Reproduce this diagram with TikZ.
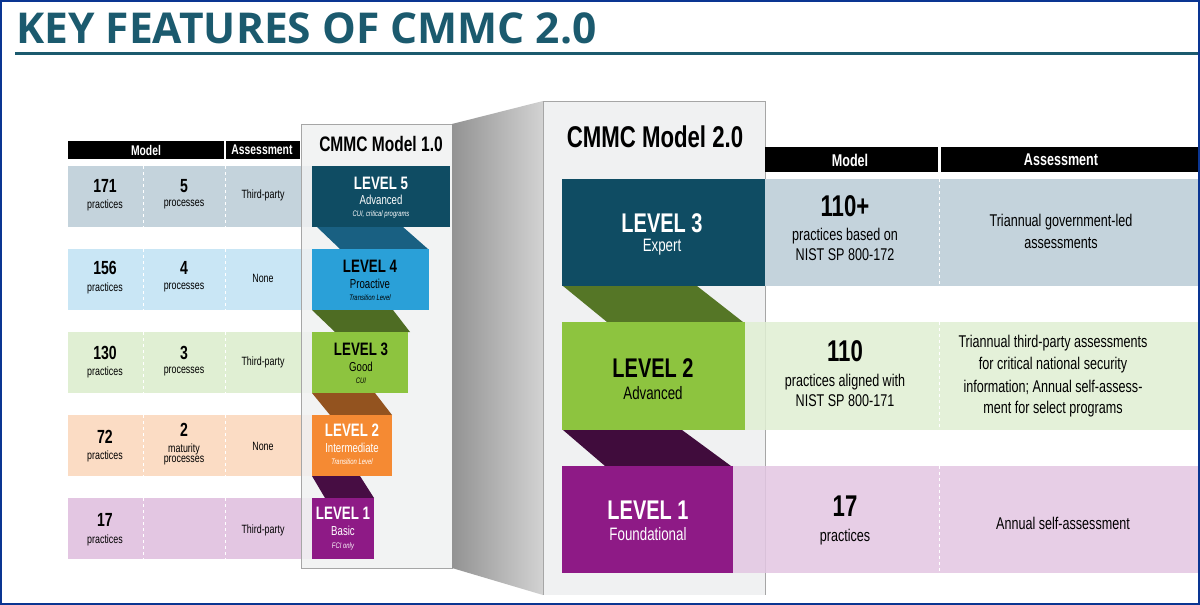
\documentclass[tikz,border=0pt]{standalone}
\usepackage{fontspec}
\setmainfont{Liberation Sans}
\newfontfamily\cond{Liberation Sans}[FakeStretch=0.74]
\newfontfamily\ttl{Open Sans}
\definecolor{teal}{HTML}{1B5A6E}
\definecolor{navy}{HTML}{0F4C63}
\definecolor{sky}{HTML}{2AA0D8}
\definecolor{lime}{HTML}{8DC43F}
\definecolor{orng}{HTML}{F58A33}
\definecolor{purp}{HTML}{8E1A86}
\definecolor{rA}{HTML}{C4D3DC}
\definecolor{rB}{HTML}{C9E6F5}
\definecolor{rC}{HTML}{E0EFD3}
\definecolor{rD}{HTML}{FBDCC4}
\definecolor{rE}{HTML}{E3C6E2}
\definecolor{panel}{HTML}{F0F1F2}
\begin{document}
\begin{tikzpicture}[x=1pt,y=-1pt,
  t/.style={inner sep=0pt,align=center,font=\cond\fontsize{#1}{#1}\selectfont},
  tb/.style={inner sep=0pt,align=center,font=\cond\bfseries\fontsize{#1}{#1}\selectfont},
  sep/.style={white,dashed,line width=1pt},
  hdr/.style={fill=black}]
\useasboundingbox (0,0) rectangle (1200,605);
\fill[white] (0,0) rectangle (1200,605);
\draw[navy!70!blue,line width=1.2pt] (1,1) rectangle (1199,604);
\node[inner sep=0pt,anchor=west,font=\ttl\bfseries\fontsize{42.5}{42.5}\selectfont,text=teal] (title) at (16,28) {KEY FEATURES OF CMMC 2.0};
\draw[teal,line width=3pt] (15,53) -- (1198,53);
% ---- left table rows
\fill[rA] (68,166) rectangle (312,227);
\fill[rB] (68,249) rectangle (312,310);
\fill[rC] (68,332) rectangle (312,393);
\fill[rD] (68,415) rectangle (312,476);
\fill[rE] (68,498) rectangle (312,559);
\foreach \a/\b in {166/227,249/310,332/393,415/476,498/559}{
  \draw[sep] (143,\a) -- (143,\b); \draw[sep] (225,\a) -- (225,\b);}
\fill[hdr] (68,141) rectangle (224,159);
\fill[hdr] (226,141) rectangle (300,159);
\node[tb=14,white] (lhm) at (146,150) {Model};
\node[tb=14,white] (lha) at (262,150) {Assessment};
% panel 1
\fill[panel,opacity=0.85] (301,124) rectangle (452,568);
\draw[gray!70] (301,124) rectangle (452,568);
\node[tb=21] (p1) at (381,144) {CMMC Model 1.0};
% 3D connector
\shade[left color=gray!85,right color=gray!35] (452,124) -- (543,101) -- (543,595) -- (452,568) -- cycle;
% level connectors model 1
\fill[sky!60!black] (317,227) -- (403,227) -- (428,249) -- (340,249) -- cycle;
\fill[lime!55!black] (312,310) -- (393,310) -- (410,332) -- (335,332) -- cycle;
\fill[orng!60!black] (312,393) -- (375,393) -- (392,415) -- (330,415) -- cycle;
\fill[purp!50!black] (312,476) -- (360,476) -- (374,498) -- (325,498) -- cycle;
% level boxes model 1
\fill[navy] (312,166) rectangle (450,227);
\fill[sky] (312,249) rectangle (429,310);
\fill[lime] (312,332) rectangle (408,393);
\fill[orng] (312,415) rectangle (392,476);
\fill[purp] (312,498) rectangle (374,559);
\node[tb=18,white] (l5a) at (381,183) {LEVEL 5};
\node[t=13,white] (l5b) at (381,200) {Advanced};
\node[t=8,white,font=\cond\itshape\fontsize{8}{8}\selectfont] (l5c) at (381,214) {CUI, critical programs};
\node[tb=18] (l4a) at (370,266) {LEVEL 4};
\node[t=13] (l4b) at (370,284) {Proactive};
\node[t=8,font=\cond\itshape\fontsize{8}{8}\selectfont] (l4c) at (370,298) {Transition Level};
\node[tb=18] (l3a) at (361,349) {LEVEL 3};
\node[t=13] (l3b) at (361,367) {Good};
\node[t=8,font=\cond\itshape\fontsize{8}{8}\selectfont] (l3c) at (361,381) {CUI};
\node[tb=18,white] (l2a) at (352,430) {LEVEL 2};
\node[t=13,white] (l2b) at (352,448) {Intermediate};
\node[t=8,white,font=\cond\itshape\fontsize{8}{8}\selectfont] (l2c) at (352,462) {Transition Level};
\node[tb=18,white] (l1a) at (343,513) {LEVEL 1};
\node[t=13,white] (l1b) at (343,531) {Basic};
\node[t=8,white,font=\cond\itshape\fontsize{8}{8}\selectfont] (l1c) at (343,546) {FCI only};
% left texts
\node[tb=19] (n1) at (105,186) {171}; \node[t=12] (n1p) at (105,205) {practices};
\node[tb=19] (m1) at (184,186) {5}; \node[t=12] (m1p) at (184,205) {processes};
\node[t=12] (a1) at (263,195) {Third-party};
\node[tb=19] (n2) at (105,268) {156}; \node[t=12] (n2p) at (105,288) {practices};
\node[tb=19] (m2) at (184,268) {4}; \node[t=12] (m2p) at (184,288) {processes};
\node[t=12] (a2) at (263,278) {None};
\node[tb=19] (n3) at (105,353) {130}; \node[t=12] (n3p) at (105,372) {practices};
\node[tb=19] (m3) at (184,353) {3}; \node[t=12] (m3p) at (184,372) {processes};
\node[t=12] (a3) at (263,362) {Third-party};
\node[tb=19] (n4) at (105,437) {72}; \node[t=12] (n4p) at (105,456) {practices};
\node[tb=19] (m4) at (184,430) {2}; \node[t=12] (m4p) at (184,449) {maturity}; \node[t=12] (m4q) at (184,461) {processes};
\node[t=12] (a4) at (263,446) {None};
\node[tb=19] (n5) at (105,520) {17}; \node[t=12] (n5p) at (105,540) {practices};
\node[t=12] (a5) at (263,530) {Third-party};
% panel 2
\fill[panel] (543,101) rectangle (765,595);
\draw[gray!70] (543,101) -- (543,595) (765,101) -- (765,595) (543,101) -- (765,101);
\node[tb=30] (p2) at (655,137) {CMMC Model 2.0};
% right table
\fill[hdr] (765,147) rectangle (938,172);
\fill[hdr] (941,147) rectangle (1198,172);
\node[tb=17,white] (rhm) at (850,160) {Model};
\node[tb=17,white] (rha) at (1061,160) {Assessment};
\fill[rA] (765,179) rectangle (1198,286);
\fill[rC,opacity=0.85] (745,322) rectangle (1198,430);
\fill[rE,opacity=0.85] (733,466) rectangle (1198,573);
\foreach \a/\b in {179/286,322/430,466/573}{\draw[sep] (939,\a) -- (939,\b);}
% connectors model 2
\fill[lime!60!black] (563,286) -- (697,286) -- (743,322) -- (607,322) -- cycle;
\fill[purp!45!black] (563,430) -- (682,430) -- (731,466) -- (605,466) -- cycle;
\fill[navy] (562,179) rectangle (765,286);
\fill[lime] (562,322) rectangle (745,430);
\fill[purp] (562,466) rectangle (733,573);
\node[tb=27,white] (r3a) at (662,223) {LEVEL 3};
\node[t=18,white] (r3b) at (662,247) {Expert};
\node[tb=27] (r2a) at (653,368) {LEVEL 2};
\node[t=18] (r2b) at (653,393) {Advanced};
\node[tb=27,white] (r1a) at (648,510) {LEVEL 1};
\node[t=18,white] (r1b) at (648,534) {Foundational};
% right texts
\node[tb=30] (x1) at (845,206) {110+};
\node[t=17] (x1b) at (845,236) {practices based on};
\node[t=17] (x1c) at (845,255) {NIST SP 800-172};
\node[t=17] (y1) at (1061,222) {Triannual government-led};
\node[t=17] (y1b) at (1061,243) {assessments};
\node[tb=30] (x2) at (845,351) {110};
\node[t=17] (x2b) at (845,382) {practices aligned with};
\node[t=17] (x2c) at (845,401) {NIST SP 800-171};
\node[t=17] (y2a) at (1053,343) {Triannual third-party assessments};
\node[t=17] (y2b) at (1053,365) {for critical national security};
\node[t=17] (y2c) at (1053,387) {information; Annual self-assess-};
\node[t=17] (y2d) at (1053,409) {ment for select programs};
\node[tb=30] (x3) at (845,506) {17};
\node[t=17] (x3b) at (845,537) {practices};
\node[t=17] (y3) at (1063,523) {Annual self-assessment};
\end{tikzpicture}
\end{document}
